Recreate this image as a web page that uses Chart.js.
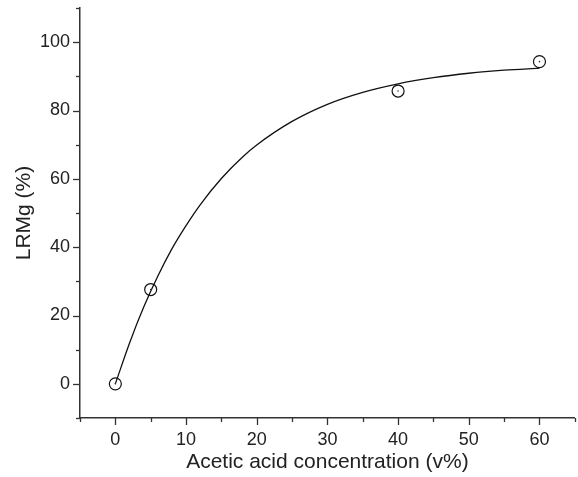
<!DOCTYPE html>
<html>
<head>
<meta charset="utf-8">
<script src="https://cdn.jsdelivr.net/npm/chart.js@4"></script>
<style>
  html, body { margin: 0; padding: 0; background: #fff; overflow: hidden; }
  #wrap { width: 578px; height: 477px; overflow: hidden; }
</style>
</head>
<body>
<div id="wrap"><canvas id="chart" width="582" height="477"></canvas></div>
<script>
// measured points
const concX = [0, 5, 40, 60];
const lrmgY = [0, 27.6, 85.7, 94.3];

// fitted curve
const curveX = [0, 2, 4, 6, 8, 10, 12, 15, 18, 20, 25, 30, 35, 40, 45, 50, 55, 60];
const curveY = [0, 11.9, 22.4, 31.5, 39.5, 46.3, 52.4, 60.1, 66.4, 69.9, 76.8, 81.8, 85.3, 87.8, 89.6, 90.9, 91.8, 92.4];

const xTickLabels = [0, 10, 20, 30, 40, 50, 60];
const yTickLabels = [0, 20, 40, 60, 80, 100];

const axisColor = '#333';
const textColor = '#222';
const fontFamily = '"Liberation Sans", Arial, sans-serif';

// draws major / minor tick marks on the outside of both axes
const tickMarks = {
    id: 'tickMarks',
    afterDraw(chart) {
        const ctx = chart.ctx;
        const xs = chart.scales.x, ys = chart.scales.y;
        ctx.save();
        ctx.strokeStyle = axisColor;
        ctx.lineWidth = 1.3;
        xs.ticks.forEach(t => {
            const px = Math.round(xs.getPixelForValue(t.value)) + 0.5;
            const len = xTickLabels.includes(t.value) ? 7 : 4;
            ctx.beginPath();
            ctx.moveTo(px, xs.top);
            ctx.lineTo(px, xs.top + len);
            ctx.stroke();
        });
        ys.ticks.forEach(t => {
            const py = Math.round(ys.getPixelForValue(t.value)) + 0.5;
            const len = yTickLabels.includes(t.value) ? 7 : 4;
            ctx.beginPath();
            ctx.moveTo(ys.right, py);
            ctx.lineTo(ys.right - len, py);
            ctx.stroke();
        });
        ctx.restore();
    }
};

function renderChart() {
    const ctx = document.getElementById('chart').getContext('2d');
    new Chart(ctx, {
        type: 'scatter',
        data: {
            datasets: [
                {
                    type: 'line',
                    data: curveX.map((x, i) => ({x: x, y: curveY[i]})),
                    borderColor: '#111',
                    borderWidth: 1.3,
                    pointRadius: 0,
                    cubicInterpolationMode: 'monotone',
                    fill: false,
                    order: 3
                },
                {
                    data: concX.map((x, i) => ({x: x, y: lrmgY[i]})),
                    pointStyle: 'circle',
                    pointRadius: 6,
                    borderColor: '#111',
                    borderWidth: 1.2,
                    backgroundColor: 'rgba(0,0,0,0)',
                    order: 2
                },
                {
                    data: concX.map((x, i) => ({x: x, y: lrmgY[i]})),
                    pointRadius: 0.8,
                    borderWidth: 0,
                    backgroundColor: '#333',
                    order: 1
                }
            ]
        },
        options: {
            responsive: false,
            animation: false,
            layout: { padding: { left: 0, right: 0, top: 8, bottom: 0 } },
            plugins: { legend: { display: false }, tooltip: { enabled: false } },
            scales: {
                x: {
                    type: 'linear',
                    min: -5,
                    max: 65,
                    afterFit: s => { s.height = 59; s.paddingLeft = 0; s.paddingRight = 0; },
                    border: { display: true, color: axisColor, width: 1.5 },
                    grid: { display: false, drawTicks: false },
                    ticks: {
                        stepSize: 5,
                        autoSkip: false,
                        maxRotation: 0,
                        padding: 11,
                        color: textColor,
                        font: { family: fontFamily, size: 18 },
                        callback: v => xTickLabels.includes(v) ? String(v) : ''
                    },
                    title: {
                        display: true,
                        text: 'Acetic acid concentration (v%)',
                        color: textColor,
                        font: { family: fontFamily, size: 21 },
                        padding: { top: 2, bottom: 2 }
                    }
                },
                y: {
                    type: 'linear',
                    min: -10,
                    max: 110,
                    afterFit: s => { s.width = 80; s.paddingTop = 0; s.paddingBottom = 0; },
                    border: { display: true, color: axisColor, width: 1.5 },
                    grid: { display: false, drawTicks: false },
                    ticks: {
                        stepSize: 10,
                        autoSkip: false,
                        padding: 10,
                        color: textColor,
                        font: { family: fontFamily, size: 18 },
                        callback: v => yTickLabels.includes(v) ? String(v) : ''
                    },
                    title: {
                        display: true,
                        text: 'LRMg (%)',
                        color: textColor,
                        font: { family: fontFamily, size: 21 },
                        padding: { top: 12, bottom: 4 }
                    }
                }
            }
        },
        plugins: [tickMarks]
    });
}
renderChart();
</script>
</body>
</html>
